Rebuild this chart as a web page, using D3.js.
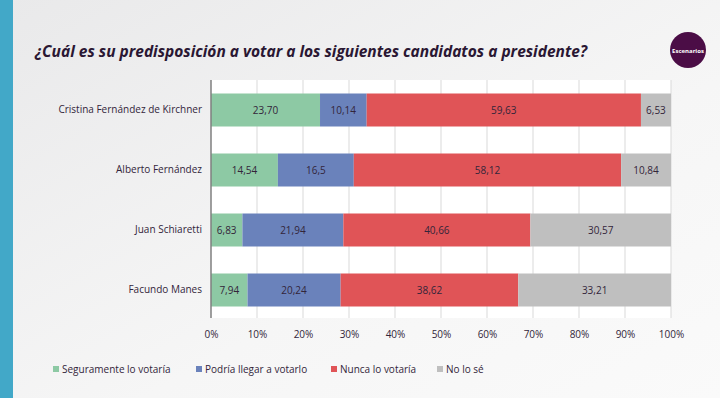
<!DOCTYPE html>
<html>
<head>
<meta charset="utf-8">
<script src="https://cdn.jsdelivr.net/npm/d3@7"></script>
<style>
  body { margin: 0; }
  svg { display: block; font-family: "Open Sans", sans-serif; }
</style>
</head>
<body>
<div id="chart"></div>
<script>
var candidates = ["Cristina Fernández de Kirchner", "Alberto Fernández", "Juan Schiaretti", "Facundo Manes"];
var seriesNames = ["Seguramente lo votaría", "Podría llegar a votarlo", "Nunca lo votaría", "No lo sé"];
var seguramente = [23.70, 14.54, 6.83, 7.94];
var podria = [10.14, 16.5, 21.94, 20.24];
var nunca = [59.63, 58.12, 40.66, 38.62];
var nolose = [6.53, 10.84, 30.57, 33.21];
var labels = [
  ["23,70", "14,54", "6,83", "7,94"],
  ["10,14", "16,5", "21,94", "20,24"],
  ["59,63", "58,12", "40,66", "38,62"],
  ["6,53", "10,84", "30,57", "33,21"]
];
var ticks = [0, 10, 20, 30, 40, 50, 60, 70, 80, 90, 100];
var colors = ["#8dc9a4", "#6a82bb", "#e05457", "#bfbfbf"];

var W = 720, H = 398;
var margin = {top: 80, right: 48, bottom: 80, left: 211};
var width = W - margin.left - margin.right,
    height = H - margin.top - margin.bottom;

var svg = d3.select("#chart").append("svg")
    .attr("width", W)
    .attr("height", H);

// background
var defs = svg.append("defs");
var grad = defs.append("linearGradient").attr("id", "bg")
    .attr("x1", "0").attr("y1", "0").attr("x2", "1").attr("y2", "1");
grad.append("stop").attr("offset", "0").attr("stop-color", "#e9e9ea");
grad.append("stop").attr("offset", "0.6").attr("stop-color", "#f6f6f6");
grad.append("stop").attr("offset", "1").attr("stop-color", "#fafafa");
svg.append("rect").attr("width", W).attr("height", H).attr("fill", "url(#bg)");
svg.append("rect").attr("width", 13).attr("height", H).attr("fill", "#42a8c8");

// title
svg.append("text")
    .attr("x", 35).attr("y", 57)
    .attr("font-size", 15.5)
    .attr("font-weight", 700)
    .attr("font-style", "italic")
    .attr("fill", "#2a1733")
    .text("¿Cuál es su predisposición a votar a los siguientes candidatos a presidente?");

// logo
svg.append("circle").attr("cx", 688).attr("cy", 50).attr("r", 18).attr("fill", "#4b0d46");
svg.append("text").attr("x", 688).attr("y", 52.5).attr("text-anchor", "middle")
    .attr("font-size", 6).attr("font-weight", 700).attr("fill", "#fff").text("Escenarios");

var g = svg.append("g").attr("transform", "translate(" + margin.left + "," + margin.top + ")");

var x = d3.scaleLinear().domain([0, 100]).range([0, width - 1]);
var y = d3.scaleBand().domain(candidates).range([0, 240]).paddingInner(0.45).paddingOuter(0.225);

// plot area white
g.append("rect").attr("x", 0).attr("y", 0).attr("width", x(100)).attr("height", 238).attr("fill", "#ffffff");

// grid
g.selectAll(".grid").data(ticks.slice(1)).enter().append("line")
    .attr("x1", function (d) { return x(d); })
    .attr("x2", function (d) { return x(d); })
    .attr("y1", 0).attr("y2", 238)
    .attr("stroke", "#d9d9d9").attr("stroke-width", 1);

var table = [seguramente, podria, nunca, nolose];
var stackData = candidates.map(function (c, i) {
  var o = {name: c};
  seriesNames.forEach(function (s, j) { o[s] = table[j][i]; });
  return o;
});
var stack = d3.stack().keys(seriesNames)(stackData);

stack.forEach(function (layer, j) {
  var lg = g.append("g");
  lg.selectAll("rect").data(layer).enter().append("rect")
      .attr("x", function (d) { return x(d[0]); })
      .attr("y", function (d) { return y(d.data.name); })
      .attr("width", function (d) { return Math.min(x(d[1]), x(100)) - x(d[0]); })
      .attr("height", y.bandwidth())
      .attr("fill", colors[j]);
  lg.selectAll("text").data(layer).enter().append("text")
      .attr("x", function (d) { return (x(d[0]) + Math.min(x(d[1]), x(100))) / 2; })
      .attr("y", function (d) { return y(d.data.name) + y.bandwidth() / 2 + 3.5; })
      .attr("text-anchor", "middle")
      .attr("font-size", 10)
      .attr("fill", "#33253a")
      .text(function (d, i) { return labels[j][i]; });
});

// y axis labels
var yAxis = d3.axisLeft(y).tickSize(0).tickPadding(9);
var gy = g.append("g").call(yAxis);
gy.select(".domain").remove();
gy.selectAll("text").attr("font-size", 10).attr("fill", "#33253a")
    .style("font-family", "Open Sans, sans-serif");

g.append("line").attr("x1", 0).attr("x2", 0).attr("y1", 0).attr("y2", 238)
    .attr("stroke", "#7f7f7f").attr("stroke-width", 1.5);

// x axis
var xAxis = d3.axisBottom(x).tickValues(ticks).tickSize(0).tickPadding(0)
    .tickFormat(function (d) { return d + "%"; });
var gx = g.append("g").attr("transform", "translate(0,251)").call(xAxis);
gx.select(".domain").remove();
gx.selectAll("text").attr("font-size", 10).attr("fill", "#33253a")
    .style("font-family", "Open Sans, sans-serif");

// legend
var legendX = [53, 196, 331, 437];
var lgd = svg.append("g").attr("transform", "translate(0,370)");
seriesNames.forEach(function (s, j) {
  lgd.append("rect").attr("x", legendX[j]).attr("y", -4).attr("width", 6).attr("height", 6).attr("fill", colors[j]);
  lgd.append("text").attr("x", legendX[j] + 9).attr("y", 3).attr("font-size", 10)
      .attr("fill", "#33253a").text(s);
});
</script>
</body>
</html>
